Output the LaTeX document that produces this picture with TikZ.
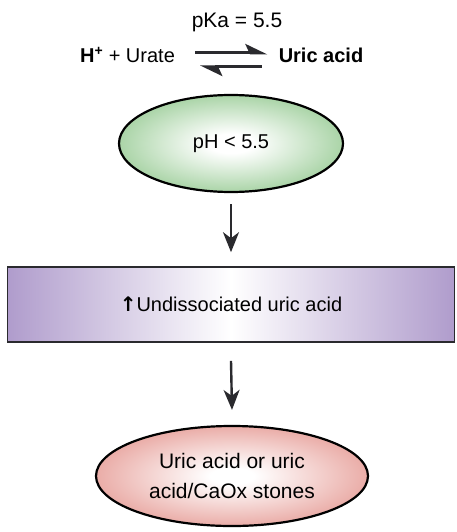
\documentclass[tikz,border=0pt]{standalone}
\usepackage{fontspec}
\setmainfont{Liberation Sans}
\newfontfamily\arrowfont{DejaVu Sans}
\usetikzlibrary{arrows.meta,shapes.geometric,positioning}
\definecolor{phgreen}{HTML}{88C384}
\definecolor{acidpurple}{HTML}{A690C6}
\definecolor{stonered}{HTML}{E28D86}
\definecolor{darkgray}{HTML}{2A2A2E}
\pgfdeclareradialshading{greenglow}{\pgfpoint{0bp}{0bp}}{color(0bp)=(white); color(5bp)=(white); color(33bp)=(phgreen); color(50bp)=(phgreen)}
\pgfdeclareradialshading{redglow}{\pgfpoint{0bp}{0bp}}{color(0bp)=(white); color(4bp)=(white); color(33bp)=(stonered); color(50bp)=(stonered)}
\pgfdeclarehorizontalshading{barglow}{100bp}{color(0bp)=(acidpurple); color(22bp)=(acidpurple); color(50bp)=(white); color(78bp)=(acidpurple); color(100bp)=(acidpurple)}
\tikzset{
  chemtext/.style={inner sep=0pt,font=\fontsize{20}{24}\selectfont},
  flowarrow/.style={-{Stealth[length=20pt,width=16pt,inset=6pt]},line width=2.4pt,darkgray},
  eqarrow/.style={-{Stealth[harpoon,length=19pt,width=18pt,inset=4pt]},line width=3pt,darkgray},
  glowellipse/.style={ellipse,draw=black,line width=2.2pt,inner sep=0pt,align=center,font=\fontsize{20}{24}\selectfont},
  acidbar/.style={rectangle,draw=darkgray,line width=1.6pt,shading=barglow,minimum width=447pt,minimum height=75pt,font=\fontsize{20}{24}\selectfont}
}

\begin{document}
\begin{tikzpicture}[x=1pt,y=-1pt]
  \useasboundingbox (0,0) rectangle (457,532);
  \node[chemtext,anchor=base,font=\fontsize{21}{24}\selectfont] (pka) at (237,28) {pKa = 5.5};
  \node[chemtext,anchor=base] (urate) at (127.5,63) {\textbf{H\textsuperscript{+}} + Urate};
  \node[chemtext,anchor=base] (uric) at (321,63) {\textbf{Uric acid}};
  \draw[eqarrow] ([shift={(20,-10)}]urate.base east) -- ([shift={(-11,-10)}]uric.base west);
  \draw[eqarrow] ([shift={(-17,4)}]uric.base west) -- ([shift={(25,4)}]urate.base east);
  \node[glowellipse,shading=greenglow,minimum width=224pt,minimum height=97pt] (ph) at (231,143.5) {pH < 5.5};
  \node[acidbar] (undiss) at (231,304.5) {{\arrowfont\bfseries ↑}Undissociated uric acid};
  \node[glowellipse,shading=redglow,minimum width=272pt,minimum height=100pt,font=\fontsize{21}{30}\selectfont] (stones) at (232,476) {Uric acid or uric\\acid/CaOx stones};
  \draw[flowarrow] ([shift={(0,11)}]ph.south) -- ([shift={(0,-14)}]undiss.north);
  \draw[flowarrow] ([shift={(0,18)}]undiss.south) -- ([shift={(0,-15)}]stones.north);
\end{tikzpicture}
\end{document}
